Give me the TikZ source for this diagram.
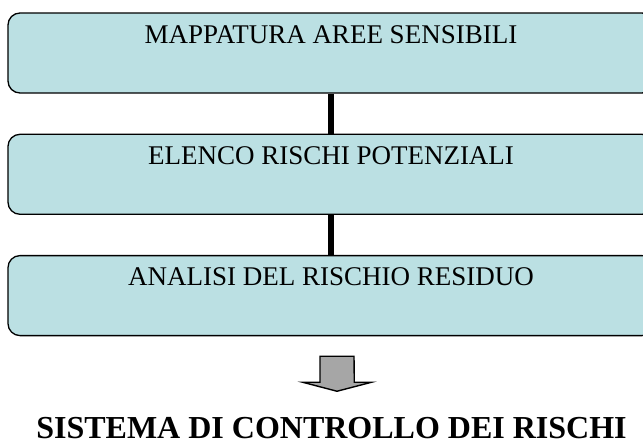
\documentclass[tikz,border=0pt]{standalone}
\usepackage{fontspec}
\setmainfont{Liberation Serif}
\usepackage{tikz}
\usetikzlibrary{positioning}
\definecolor{paleteal}{HTML}{BBE0E3}
\definecolor{arrowgrey}{HTML}{A6A6A6}
\tikzset{
  phase/.style={draw=black,fill=paleteal,line width=1.3pt,rounded corners=12pt,
    minimum width=646pt,inner xsep=0pt,inner ysep=0pt,text height=30pt,text depth=50pt,
    font=\fontsize{27}{30}\selectfont},
  link/.style={line width=5.5pt,draw=black},
  bigarrow/.style={draw=black,fill=arrowgrey,line width=1.4pt,line join=miter},
  headline/.style={font=\bfseries\fontsize{32}{36}\selectfont,anchor=base,inner sep=0pt},
}

\begin{document}
\begin{tikzpicture}[x=1pt,y=1pt,node distance=40pt]
  \useasboundingbox (0,0) rectangle (643,-439);
  \clip (0,0) rectangle (643,-439);
  \node[phase] (map) at (331,-53) {MAPPATURA AREE SENSIBILI};
  \node[phase,below=of map] (risks) {ELENCO RISCHI POTENZIALI};
  \node[phase,below=of risks] (resid) {ANALISI DEL RISCHIO RESIDUO};
  \draw[link] (map.south) -- (risks.north); \draw[link] (risks.south) -- (resid.north);
  % down arrow
  \coordinate (ar) at ([xshift=6pt,yshift=-20pt]resid.south);
  \draw[bigarrow] ([xshift=-17pt]ar) -- ++(0,-26) -- ++(-17.3,0) -- ([yshift=-35pt]ar)
    -- ++(34.5,9) -- ++(-17.2,0) -- ([xshift=17pt]ar) -- cycle;
  \node[headline] (ctrl) at ([xshift=0.5pt,yshift=-102pt]resid.south) {SISTEMA DI CONTROLLO DEI RISCHI};
\end{tikzpicture}
\end{document}
